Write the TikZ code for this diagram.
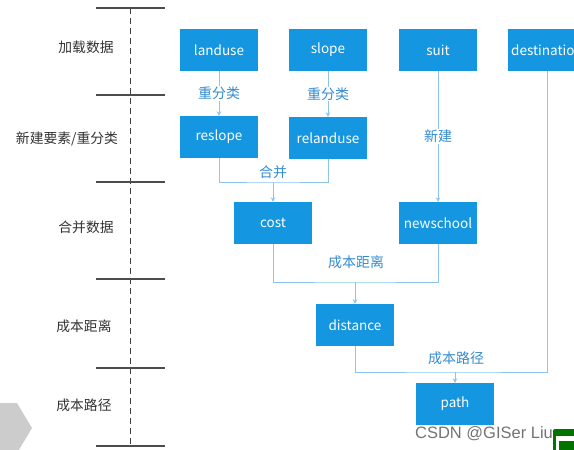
\documentclass[tikz,border=0pt]{standalone}
\usepackage{fontspec}
\setmainfont{Noto Sans CJK SC}
\newfontfamily\markfont{Liberation Sans}
\usetikzlibrary{arrows.meta}

\definecolor{boxblue}{RGB}{20,150,224}
\definecolor{lineblue}{RGB}{140,196,236}
\definecolor{tagblue}{RGB}{52,140,208}

\begin{document}
\begin{tikzpicture}[x=1pt,y=-1pt,
  box/.style={fill=boxblue,text=white,minimum width=78pt,minimum height=42pt,
    inner sep=0pt,font=\fontsize{13.5}{15}\selectfont},
  link/.style={draw=lineblue,line width=1pt},
  flow/.style={link,-{Stealth[length=4.5pt,width=4.5pt]}},
  tag/.style={text=tagblue,inner sep=1pt,font=\fontsize{14}{16}\selectfont},
  stage/.style={text=black!80,font=\fontsize{13.8}{16}\selectfont},
  rule/.style={draw=black!70,line width=1.1pt}]
  \useasboundingbox (0,0) rectangle (574,450);
  % stage ruler
  \draw[black!75,line width=0.9pt,dash pattern=on 6pt off 4pt] (130,8) -- (130,446);
  \foreach \y in {8,95,182,279,368,446}
    \draw[rule] (96,\y) -- (165,\y);
  \node[stage] (load) at (86,47) {加载数据};
  \node[stage] (build) at (67,139) {新建要素/重分类};
  \node[stage] (merge) at (86,227) {合并数据};
  \node[stage] (dist) at (84,326) {成本距离};
  \node[stage] (route) at (84,405) {成本路径};
  \fill[black!20] (0,403) -- (17,403) -- (32,428) -- (17,453) -- (0,453) -- cycle;
  % data boxes
  \node[box] (landuse) at (219,50) {landuse};
  \node[box] (slope) at (328,50) {slope};
  \node[box] (suit) at (438,50) {suit};
  \node[box] (destination) at (547,50) {destination};
  \node[box] (reslope) at (219,137) {reslope};
  \node[box] (relanduse) at (328,138) {relanduse};
  \node[box] (cost) at (273,223) {cost};
  \node[box] (newschool) at (438,223) {newschool};
  \node[box] (distance) at (355,325) {distance};
  \node[box] (path) at (455,404) {path};
  % connectors
  \draw[flow] (landuse) -- node[tag,fill=white] {重分类} (reslope);
  \draw[flow] (slope) -- node[tag,fill=white] {重分类} (relanduse);
  \draw[flow] (suit) -- node[tag,fill=white] {新建} (newschool);
  \coordinate (joinA) at (273,182);
  \draw[link] (reslope) |- (joinA) -| (relanduse);
  \draw[flow] (joinA) -- (cost);
  \node[tag,above=2pt] (mergetag) at (joinA) {合并};
  \coordinate (joinB) at (355,282);
  \draw[link] (cost) |- (joinB) -| (newschool);
  \draw[flow] (joinB) -- (distance);
  \node[tag] (disttag) at (356,262) {成本距离};
  \coordinate (joinC) at (455,372);
  \draw[link] (distance) |- (joinC) -| (destination);
  \draw[flow] (joinC) -- (path);
  \node[tag] (routetag) at (456,358) {成本路径};
  % watermark
  \node[text=black!55,font=\markfont\fontsize{16.5}{18}\selectfont] (mark) at (484,434) {CSDN @GISer Liu};
  \fill[green!45!black,rounded corners=2pt] (553,429) rectangle (578,454);
  \fill[white] (556,436) rectangle (578,454);
  \fill[green!45!black] (559,441) rectangle (578,454);
\end{tikzpicture}
\end{document}
